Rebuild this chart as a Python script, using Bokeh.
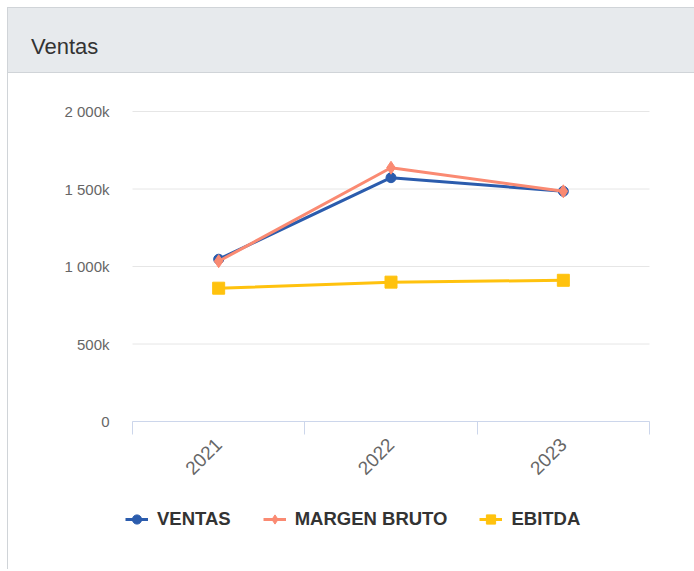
import numpy as np
from bokeh.plotting import figure
from bokeh.models import Range1d, FixedTicker, Legend, LegendItem, Div
from bokeh.layouts import column
from bokeh.embed import file_html
from bokeh.resources import INLINE

# ---- data ----
header_title = "Ventas"
years = ["2021", "2022", "2023"]
ventas = [1047000, 1573000, 1485000]
margen_bruto = [1034000, 1637000, 1485000]
ebitda = [860000, 899000, 911000]
series_names = ["VENTAS", "MARGEN BRUTO", "EBITDA"]
y_ticks = [0, 500000, 1000000, 1500000, 2000000]
y_tick_labels = ["0", "500k", "1 000k", "1 500k", "2 000k"]

FONT = "Liberation Sans"
W = 686
H = 496
HEADER_BG = "#e7eaed"
BORDER = "#d0d4d8"

# ---- layout constants (pixels inside the chart figure) ----
TOP = 38              # top of value axis (max y tick)
PLOT_H = 310          # height of the value axis
LEFT = 124            # left of category axis
PLOT_W = 517          # width of the category axis
n = len(years)
y_max = y_ticks[-1]
y_per_px = y_max / PLOT_H
x_per_px = n / PLOT_W

# ---- header ----
header = Div(text=header_title, width=W, height=66, margin=0,
             styles={"box-sizing": "border-box", "background-color": HEADER_BG,
                     "border-top": "1px solid " + BORDER, "border-bottom": "1px solid " + BORDER,
                     "padding-left": "23px", "padding-top": "14px",
                     "font-family": FONT, "font-size": "22px",
                     "color": "#333333", "line-height": "50px"})

# ---- chart ----
xs = [i + 0.5 for i in range(n)]
x_range = Range1d(-LEFT * x_per_px, n + (W - LEFT - PLOT_W) * x_per_px)
y_range = Range1d(-(H - TOP - PLOT_H) * y_per_px, y_max + TOP * y_per_px)
p = figure(width=W, height=H, x_range=x_range, y_range=y_range,
           output_backend="svg", toolbar_location=None, margin=0, min_border=0)
p.outline_line_color = None
p.background_fill_color = "white"
p.border_fill_color = "white"
p.grid.visible = False

# horizontal grid lines across the category span
p.segment(x0=0, x1=n, y0=y_ticks, y1=y_ticks, line_color="#e6e6e6", line_width=1)

p.yaxis.fixed_location = 0
p.yaxis.ticker = FixedTicker(ticks=y_ticks)
p.yaxis.major_label_overrides = dict(zip(y_ticks, y_tick_labels))
p.yaxis.axis_line_color = None
p.yaxis.major_tick_line_color = None
p.yaxis.minor_tick_line_color = None
p.yaxis.major_tick_out = 0
p.yaxis.major_label_standoff = 23
p.yaxis.major_label_text_font = FONT
p.yaxis.major_label_text_font_size = "15px"
p.yaxis.major_label_text_color = "#666666"

p.xaxis.fixed_location = 0
p.xaxis.bounds = (0, n)
p.xaxis.ticker = FixedTicker(ticks=xs, minor_ticks=list(range(n + 1)))
p.xaxis.major_label_overrides = dict(zip(xs, years))
p.xaxis.axis_line_color = "#ccd6eb"
p.xaxis.major_tick_line_color = None
p.xaxis.major_tick_out = 0
p.xaxis.major_tick_in = 0
p.xaxis.minor_tick_line_color = "#ccd6eb"
p.xaxis.minor_tick_out = 13
p.xaxis.minor_tick_in = 0
p.xaxis.major_label_orientation = np.pi / 4
p.xaxis.major_label_standoff = 7
p.xaxis.major_label_text_font = FONT
p.xaxis.major_label_text_font_size = "19px"
p.xaxis.major_label_text_color = "#666666"

colors = ["#2b5cad", "#fa8a72", "#ffc20e"]
l1 = p.line(xs, ventas, line_color=colors[0], line_width=3)
m1 = p.scatter(xs, ventas, marker="circle", size=10, fill_color=colors[0], line_color=colors[0])
l2 = p.line(xs, margen_bruto, line_color=colors[1], line_width=3)
m2 = p.scatter(xs, margen_bruto, marker="diamond", size=13,
               fill_color=colors[1], line_color=colors[1])
l3 = p.line(xs, ebitda, line_color=colors[2], line_width=3)
m3 = p.scatter(xs, ebitda, marker="square", size=12, fill_color=colors[2], line_color=colors[2])

legend = Legend(items=[LegendItem(label=series_names[0], renderers=[l1, m1]),
                       LegendItem(label=series_names[1], renderers=[l2, m2]),
                       LegendItem(label=series_names[2], renderers=[l3, m3])],
                orientation="horizontal", location=(117, 38),
                label_text_font=FONT, label_text_font_style="bold", label_text_font_size="18.5px",
                label_text_color="#333333", glyph_width=23, glyph_height=24, label_height=22,
                label_standoff=9, spacing=32, padding=0, margin=0,
                border_line_color=None, background_fill_alpha=0)
p.add_layout(legend, "center")

layout = column(header, p, margin=(7, 0, 0, 7), spacing=0,
                styles={"border-left": "1px solid " + BORDER})
open("out.html", "w").write(file_html(layout, INLINE))
